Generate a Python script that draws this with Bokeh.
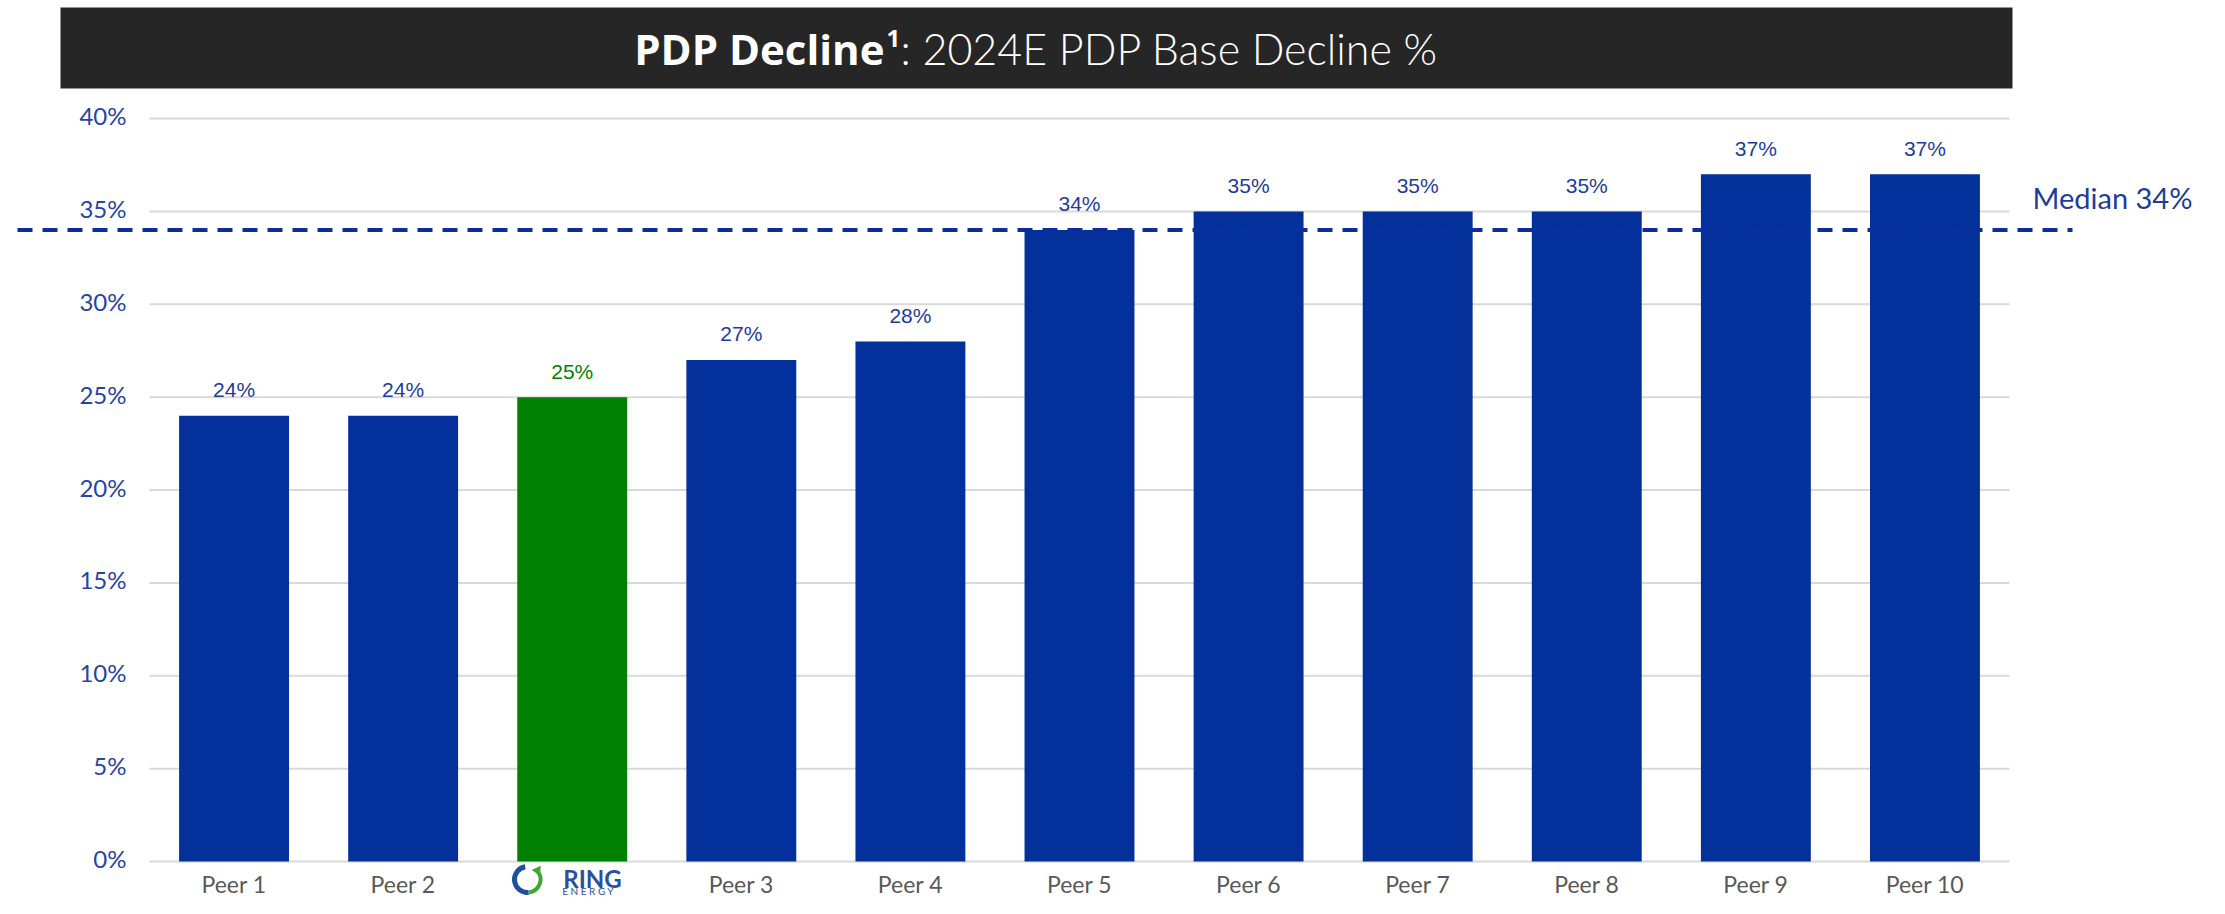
from bokeh.plotting import figure
from bokeh.models import Range1d, ColumnDataSource
from bokeh.core.properties import value
from bokeh.embed import file_html
from bokeh.resources import INLINE

# ---------------- data ----------------
categories = ["Peer 1", "Peer 2", "Ring Energy", "Peer 3", "Peer 4", "Peer 5",
              "Peer 6", "Peer 7", "Peer 8", "Peer 9", "Peer 10"]
declines = [24, 24, 25, 27, 28, 34, 35, 35, 35, 37, 37]
highlight = "Ring Energy"
median_value = 34
y_ticks = [0, 5, 10, 15, 20, 25, 30, 35, 40]
y_tick_labels = ["0%", "5%", "10%", "15%", "20%", "25%", "30%", "35%", "40%"]
title_bold = "PDP Decline"
title_sup = "1"
title_rest = ": 2024E PDP Base Decline %"

# ---------------- style / layout ----------------
BLUE = "#03309A"
GREEN = "#008000"
TXT_BLUE = "#1E3C9C"
TICK_BLUE = "#2645A3"
GRAY_TXT = "#595959"
GRID = "#D9D9D9"
TITLE_BG = "#262626"

W, H = 2209, 898
PLOT_L, PLOT_R = 149, 2009      # plotting area, px
ZERO_Y, TOP_Y = 861, 118        # px of 0 and of the top tick
n = len(categories)
slot = (PLOT_R - PLOT_L) / n
ppu = (ZERO_Y - TOP_Y) / y_ticks[-1]


def X(px):
    """canvas x pixel -> data x (for decorations placed outside the bars)"""
    return (px - PLOT_L) / slot


def Y(py):
    """canvas y pixel -> data y"""
    return (ZERO_Y - py) / ppu


p = figure(width=W, height=H,
           x_range=Range1d(X(0), X(W)), y_range=Range1d(Y(H), Y(0)),
           x_axis_location=None, y_axis_location=None,
           output_backend="svg", toolbar_location=None, min_border=0)
p.min_border_left = p.min_border_right = p.min_border_top = p.min_border_bottom = 0
p.outline_line_color = None
p.grid.grid_line_color = None
p.background_fill_color = "white"
p.border_fill_color = "white"

xc = [i + 0.5 for i in range(n)]
colors = [GREEN if c == highlight else BLUE for c in categories]
tcolors = [GREEN if c == highlight else TXT_BLUE for c in categories]
bar_labels = [f"{v}%" for v in declines]
xlabels = ["" if c == highlight else c for c in categories]
src = ColumnDataSource(dict(x=xc, cat=categories, xl=xlabels, val=declines,
                            color=colors, tcolor=tcolors, label=bar_labels))

# horizontal grid lines
gsrc = ColumnDataSource(dict(y=y_ticks, lab=y_tick_labels,
                             x0=[0] * len(y_ticks), x1=[n] * len(y_ticks)))
p.segment(x0="x0", x1="x1", y0="y", y1="y", source=gsrc, line_color=GRID,
          line_width=2)
# y tick labels
p.text(x="x0", y="y", text="lab", source=gsrc, x_offset=-23, y_offset=-3,
       text_align="right", text_baseline="middle", text_font=value("Lato"),
       text_font_size="24px", text_color=TICK_BLUE)

# bars
p.vbar(x="x", top="val", width=0.65, source=src, fill_color="color",
       line_color=None)
# value labels
p.text(x="x", y="val", text="label", source=src, y_offset=-26,
       text_align="center", text_baseline="alphabetic",
       text_font=value("Liberation Sans"), text_font_size="21px",
       text_color="tcolor")
# category labels
p.text(x="x", y=0, text="xl", source=src, y_offset=22, text_align="center",
       text_baseline="alphabetic", text_font=value("Lato"),
       text_font_size="23px", text_color=GRAY_TXT)

# median line + label
p.segment(x0=X(17), x1=X(2072), y0=median_value, y1=median_value,
          line_color="#0B2E99", line_width=4, line_dash="15 10")
p.text(x=[X(2032)], y=[median_value], text=[f"Median {median_value}%"],
       y_offset=-32, text_align="left", text_baseline="alphabetic",
       text_font=value("Lato"), text_font_size="29px", text_color=TXT_BLUE)

# title bar
p.quad(left=X(60), right=X(2012), top=Y(7), bottom=Y(88),
       fill_color=TITLE_BG, line_color=None)
p.text(x=[X(884)], y=[Y(48)], text=[title_bold],
       text_align="right", text_baseline="alphabetic",
       text_font=value("Open Sans"), text_font_style="bold",
       text_font_size="42px", text_color="white")
p.text(x=[X(886)], y=[Y(38)], text=[title_sup],
       text_align="left", text_baseline="alphabetic",
       text_font=value("Open Sans"), text_font_style="bold",
       text_font_size="24px", text_color="white")
p.text(x=[X(900)], y=[Y(48)], text=[title_rest],
       text_align="left", text_baseline="alphabetic",
       text_font=value("Lato Light"), text_font_size="43px",
       text_color="white")

# Ring Energy logo (drawn as text + arcs)
p.arc(x=[X(527)], y=[Y(879)], radius=13, radius_units="screen",
      start_angle=1.75, end_angle=4.8, direction="anticlock",
      line_color="#1F4E9A", line_width=5)
p.arc(x=[X(527)], y=[Y(879)], radius=13, radius_units="screen",
      start_angle=4.8, end_angle=7.0, direction="anticlock",
      line_color="#3FA535", line_width=4)
p.scatter(x=[X(537)], y=[Y(870)], marker="triangle", size=10, angle=-0.6,
          fill_color="#3FA535", line_color=None)
p.text(x=[X(592)], y=[0], text=["RING"], y_offset=17, text_align="center",
       text_baseline="alphabetic", text_font=value("Lato"),
       text_font_style="bold", text_font_size="24px", text_color="#2B4F9E")
p.text(x=[X(594)], y=[0], text=["E  N  E  R  G  Y"], y_offset=29,
       text_align="center", text_baseline="alphabetic",
       text_font=value("Lato"), text_font_size="10px", text_color="#2B4F9E")

open("out.html", "w").write(file_html(p, INLINE))
